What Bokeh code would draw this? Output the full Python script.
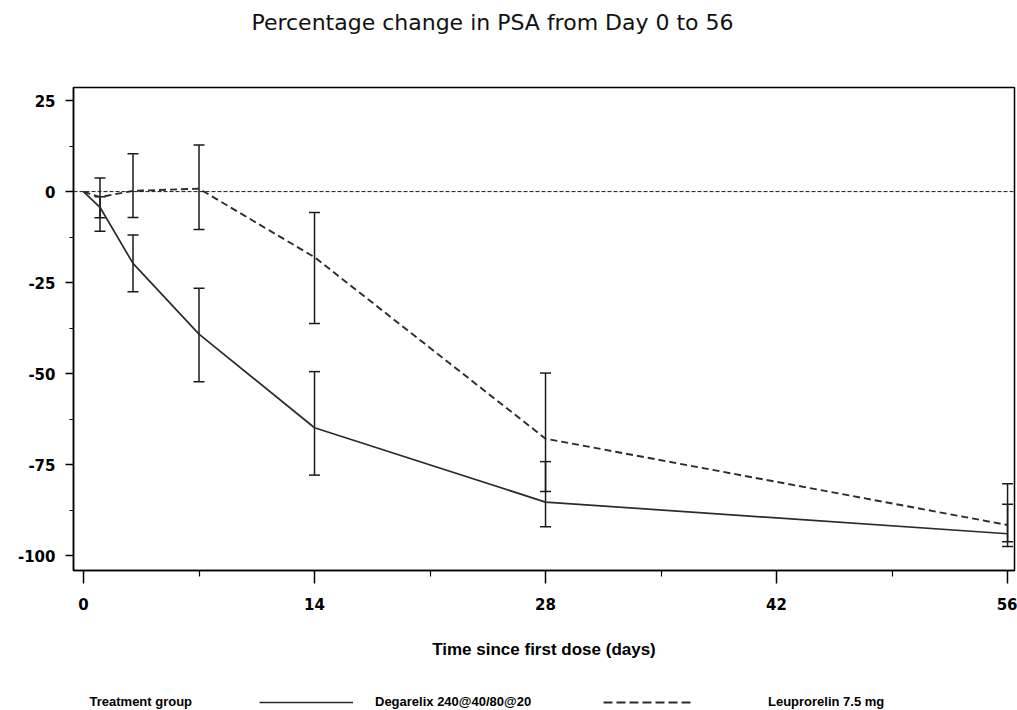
from bokeh.plotting import figure
from bokeh.layouts import column
from bokeh.models import (ColumnDataSource, Whisker, TeeHead, Span, Label,
                          Legend, LegendItem, FixedTicker)
from bokeh.embed import file_html
from bokeh.resources import INLINE

# ---- data ----
TITLE = "Percentage change in PSA from Day 0 to 56"
X_LABEL = "Time since first dose (days)"
LEGEND_TITLE = "Treatment group"
SERIES = ["Degarelix 240@40/80@20", "Leuprorelin 7.5 mg"]

DAYS = [0, 1, 3, 7, 14, 28, 56]
DEG_MEAN = [0, -4.3, -19.7, -39.1, -64.8, -85.2, -93.9]
LEU_MEAN = [0, -1.5, 0.2, 0.8, -18.0, -67.8, -91.5]

BAR_DAYS = [1, 3, 7, 14, 28, 56]
DEG_LOW = [-10.9, -27.5, -52.2, -77.8, -92.0, -97.4]
DEG_HIGH = [-1.4, -11.9, -26.5, -49.4, -74.1, -85.8]
LEU_LOW = [-7.2, -7.1, -10.4, -36.2, -82.3, -96.1]
LEU_HIGH = [3.7, 10.4, 12.8, -5.7, -49.8, -80.2]

X_TICKS = [0, 14, 28, 42, 56]
X_MINOR = [7, 21, 35, 49]
Y_TICKS = [25, 0, -25, -50, -75, -100]
Y_MINOR = [12.5, -12.5, -37.5, -62.5, -87.5]
Y_TICK_LABELS = ["25", "0", "-25", "-50", "-75", "-100"]
REF_LEVEL = 0

INK = "#1a1a1a"
LINE = "#2b2b2b"
DASH = "7 4"


def strip(height):
    f = figure(width=1017, height=height, output_backend="svg",
               toolbar_location=None, x_axis_type=None, y_axis_type=None,
               x_range=(0, 1), y_range=(0, 1), min_border_left=0,
               min_border_right=0, min_border_top=0, min_border_bottom=0)
    f.outline_line_color = None
    f.xgrid.visible = False
    f.ygrid.visible = False
    return f


# ---- title strip ----
tf = strip(44)
tf.add_layout(Label(x=419, y=22, x_units="screen", y_units="screen", text=TITLE,
                    text_align="center", text_baseline="middle",
                    text_font="DejaVu Sans", text_font_size="22px",
                    text_color="#111111"))

# ---- main chart ----
p = figure(width=1017, height=642, output_backend="svg", toolbar_location=None,
           x_range=(-0.606, 56.42), y_range=(-103.98, 28.57),
           min_border_left=73, min_border_right=3, min_border_top=43,
           min_border_bottom=116)
p.background_fill_color = "white"
p.border_fill_color = "white"
p.outline_line_color = "black"
p.outline_line_width = 1.5
p.outline_line_alpha = 1
p.xgrid.visible = False
p.ygrid.visible = False

p.xaxis.ticker = FixedTicker(ticks=X_TICKS, minor_ticks=X_MINOR)
p.yaxis.ticker = FixedTicker(ticks=Y_TICKS, minor_ticks=Y_MINOR)
p.yaxis.major_label_overrides = {t: l for t, l in zip(Y_TICKS, Y_TICK_LABELS)}
for ax in (p.xaxis[0], p.yaxis[0]):
    ax.axis_line_color = "black"
    ax.axis_line_width = 1.5
    ax.major_tick_line_color = "black"
    ax.minor_tick_line_color = "black"
    ax.major_tick_line_width = 1.5
    ax.minor_tick_line_width = 1.2
    ax.major_tick_in = 0
    ax.minor_tick_in = 0
    ax.major_label_text_font = "DejaVu Sans"
    ax.major_label_text_font_style = "bold"
    ax.major_label_text_font_size = "15px"
    ax.major_label_text_color = "black"
p.xaxis.major_tick_out = 13
p.xaxis.minor_tick_out = 6
p.yaxis.major_tick_out = 8
p.yaxis.minor_tick_out = 4
p.xaxis.major_label_standoff = 14
p.yaxis.major_label_standoff = 10
p.xaxis.axis_label = X_LABEL
p.xaxis.axis_label_text_font = "Liberation Sans"
p.xaxis.axis_label_text_font_style = "bold"
p.xaxis.axis_label_text_font_size = "17px"
p.xaxis.axis_label_text_color = "black"
p.xaxis.axis_label_standoff = 27

p.add_layout(Span(location=REF_LEVEL, dimension="width", line_color=INK,
                  line_width=1, line_dash="4 2"))

p.line(DAYS, DEG_MEAN, line_color=LINE, line_width=1.7)
p.line(DAYS, LEU_MEAN, line_color=LINE, line_width=1.9, line_dash=DASH)

for low, high in ((DEG_LOW, DEG_HIGH), (LEU_LOW, LEU_HIGH)):
    src = ColumnDataSource(dict(x=BAR_DAYS, lower=low, upper=high))
    p.add_layout(Whisker(base="x", lower="lower", upper="upper", source=src,
                         dimension="height", line_color=INK, line_width=1.5,
                         upper_head=TeeHead(size=11, line_color=INK, line_width=1.5),
                         lower_head=TeeHead(size=11, line_color=INK, line_width=1.5)))

# ---- legend strip ----
lf = strip(23)
proxy = ColumnDataSource(dict(x=[float("nan")], y=[float("nan")]))
k_deg = lf.line(x="x", y="y", source=proxy, line_color=LINE, line_width=1.7)
k_leu = lf.line(x="x", y="y", source=proxy, line_color=LINE, line_width=1.9,
                line_dash="9 4")
lf.add_layout(Label(x=16, y=8, x_units="screen", y_units="screen",
                    text=LEGEND_TITLE, text_align="left", text_baseline="middle",
                    text_font="Liberation Sans", text_font_style="bold",
                    text_font_size="13px", text_color="black"))
common = dict(orientation="horizontal", glyph_height=12, padding=0, margin=0,
              border_line_color=None, background_fill_alpha=0, label_width=0,
              label_text_font="Liberation Sans", label_text_font_style="bold",
              label_text_font_size="13px", label_text_color="black")
lf.add_layout(Legend(items=[LegendItem(label=SERIES[0], renderers=[k_deg])],
                     location=(186, 0), glyph_width=94, label_standoff=22, **common))
lf.add_layout(Legend(items=[LegendItem(label=SERIES[1], renderers=[k_leu])],
                     location=(530, 0), glyph_width=90, label_standoff=75, **common))

layout = column(tf, p, lf, spacing=0)
open("out.html", "w").write(file_html(layout, INLINE))
